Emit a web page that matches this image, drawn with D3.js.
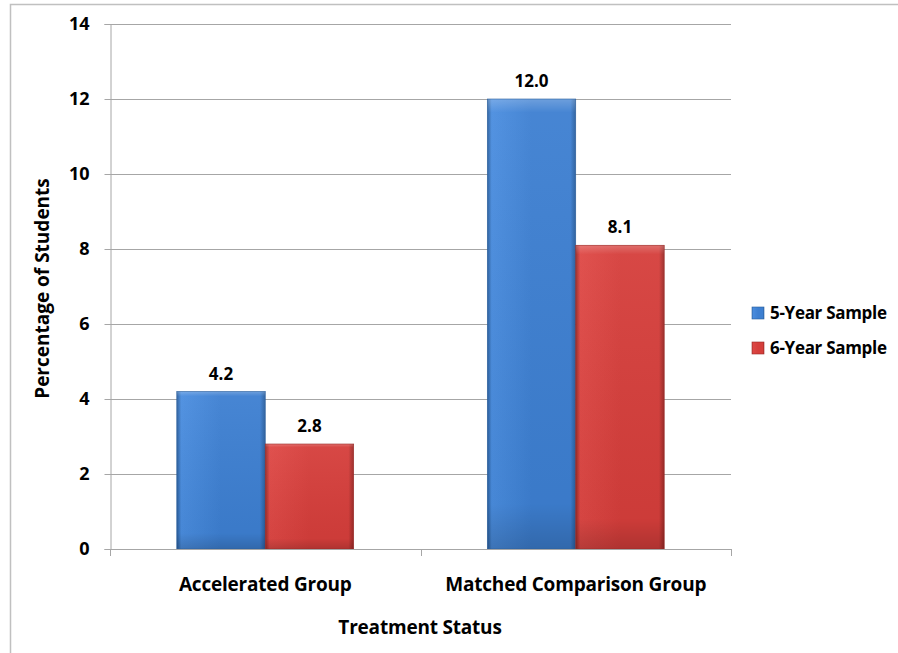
<!DOCTYPE html>
<html><head><meta charset="utf-8">
<script src="https://cdn.jsdelivr.net/npm/d3@7"></script>
<style>
html,body{margin:0;padding:0;background:#fff;}
svg{display:block;}
text{font-family:"Open Sans","Liberation Sans",sans-serif;font-weight:bold;fill:#000;}
</style></head>
<body>
<svg id="chart" width="898" height="653"></svg>
<script>
const categories = ["Accelerated Group", "Matched Comparison Group"];
const seriesNames = ["5-Year Sample", "6-Year Sample"];
const fiveYear = [4.2, 12.0];
const sixYear = [2.8, 8.1];
const yTicks = [0, 2, 4, 6, 8, 10, 12, 14];

const svg = d3.select("#chart");
const W = 898, H = 653;
const m = {left: 110, right: 898 - 731, top: 24, bottom: 653 - 549};
const FONT = '"Open Sans","Liberation Sans",sans-serif';

// outer border
svg.append("rect").attr("x", 10.5).attr("y", 4.5).attr("width", W).attr("height", H)
  .attr("fill", "none").attr("stroke", "#c0c0c0").attr("stroke-width", 1.5);

const defs = svg.append("defs");
const colors = {
  "5-Year Sample": {base: "#3d7fd1", light: "#4a8ddf", dark: "#2a5e9c"},
  "6-Year Sample": {base: "#d53e3b", light: "#de4845", dark: "#9a2a27"}
};
seriesNames.forEach((s, i) => {
  const c = colors[s];
  const g = defs.append("linearGradient").attr("id", "gh" + i).attr("x1", 0).attr("x2", 1).attr("y1", 0).attr("y2", 0);
  g.append("stop").attr("offset", "0%").attr("stop-color", c.dark);
  g.append("stop").attr("offset", "5%").attr("stop-color", c.light);
  g.append("stop").attr("offset", "50%").attr("stop-color", c.base);
  g.append("stop").attr("offset", "94%").attr("stop-color", c.base);
  g.append("stop").attr("offset", "100%").attr("stop-color", c.dark);
  const gv = defs.append("linearGradient").attr("id", "gv" + i).attr("x1", 0).attr("x2", 0).attr("y1", 0).attr("y2", 1);
  gv.append("stop").attr("offset", "0%").attr("stop-color", "#fff").attr("stop-opacity", 0.25);
  gv.append("stop").attr("offset", "3%").attr("stop-color", "#fff").attr("stop-opacity", 0.05);
  gv.append("stop").attr("offset", "90%").attr("stop-color", "#000").attr("stop-opacity", 0.04);
  gv.append("stop").attr("offset", "100%").attr("stop-color", "#000").attr("stop-opacity", 0.18);
});

const x0 = d3.scaleBand().domain(categories).range([m.left, W - m.right]).paddingInner(0).paddingOuter(0);
const x1 = d3.scaleBand().domain(seriesNames).range([0, x0.bandwidth()]).paddingInner(0).paddingOuter(0.755);
const y = d3.scaleLinear().domain([0, 14]).range([H - m.bottom, m.top]);

// gridlines
svg.append("g").selectAll("line").data(yTicks.filter(t => t > 0)).join("line")
  .attr("x1", m.left).attr("x2", W - m.right)
  .attr("y1", d => Math.round(y(d)) + 0.5).attr("y2", d => Math.round(y(d)) + 0.5)
  .attr("stroke", "#a6a6a6").attr("stroke-width", 1);

// y axis
const yAxis = svg.append("g").attr("transform", `translate(${m.left + 0.5},0)`)
  .call(d3.axisLeft(y).tickValues(yTicks).tickSize(6).tickPadding(15).tickFormat(d3.format("d")));
yAxis.select(".domain").attr("stroke", "#a6a6a6");
yAxis.selectAll(".tick line").attr("stroke", "#a6a6a6");
yAxis.selectAll("text").attr("font-size", 18).style("font-family", FONT).attr("font-weight", "bold").attr("fill", "#000");

const data = categories.map((c, i) => ({cat: c, vals: [fiveYear[i], sixYear[i]]}));

const groups = svg.append("g").selectAll("g").data(data).join("g")
  .attr("transform", d => `translate(${x0(d.cat)},0)`);
groups.each(function(d) {
  const g = d3.select(this);
  seriesNames.forEach((s, i) => {
    const v = d.vals[i];
    const bx = x1(s), bw = x1.bandwidth();
    g.append("rect").attr("x", bx).attr("y", y(v)).attr("width", bw).attr("height", y(0) - y(v))
      .attr("fill", `url(#gh${i})`);
    g.append("rect").attr("x", bx).attr("y", y(v)).attr("width", bw).attr("height", y(0) - y(v))
      .attr("fill", `url(#gv${i})`).attr("stroke", colors[s].dark).attr("stroke-width", 0.6);
    g.append("text").attr("x", bx + bw / 2).attr("y", y(v) - 12)
      .attr("text-anchor", "middle").attr("font-size", 17).text(v.toFixed(1));
  });
});

// x axis
const xAxis = svg.append("g").attr("transform", `translate(0,${y(0) + 0.5})`)
  .call(d3.axisBottom(x0).tickSize(0).tickPadding(28));
xAxis.select(".domain").remove();
svg.append("line").attr("x1", m.left).attr("x2", W - m.right).attr("y1", Math.round(y(0)) + 0.5).attr("y2", Math.round(y(0)) + 0.5).attr("stroke", "#a6a6a6");
const bounds = [m.left, m.left + x0.bandwidth(), W - m.right];
svg.append("g").selectAll("line").data(bounds).join("line")
  .attr("x1", d => Math.round(d) + 0.5).attr("x2", d => Math.round(d) + 0.5)
  .attr("y1", y(0)).attr("y2", y(0) + 7).attr("stroke", "#a6a6a6");
xAxis.selectAll("text").attr("font-size", 19).style("font-family", FONT).attr("font-weight", "bold").attr("fill", "#000").attr("letter-spacing", "-0.2px");

// axis titles
svg.append("text").attr("x", 420).attr("y", 634).attr("text-anchor", "middle").attr("font-size", 19).attr("letter-spacing", "-0.2px").text("Treatment Status");
svg.append("text").attr("transform", `translate(49,${(m.top + H - m.bottom) / 2 + 2}) rotate(-90)`)
  .attr("text-anchor", "middle").attr("font-size", 19).attr("letter-spacing", "0px").text("Percentage of Students");

// legend
const leg = svg.append("g").selectAll("g").data(seriesNames).join("g")
  .attr("transform", (d, i) => `translate(752,${307 + i * 35})`);
leg.append("rect").attr("width", 12).attr("height", 12).attr("fill", (d, i) => `url(#gh${i})`)
  .attr("stroke", d => colors[d].dark).attr("stroke-width", 0.6);
leg.append("text").attr("x", 18).attr("y", 12).attr("font-size", 17).attr("letter-spacing", "-0.3px").text(d => d);
</script>
</body></html>
